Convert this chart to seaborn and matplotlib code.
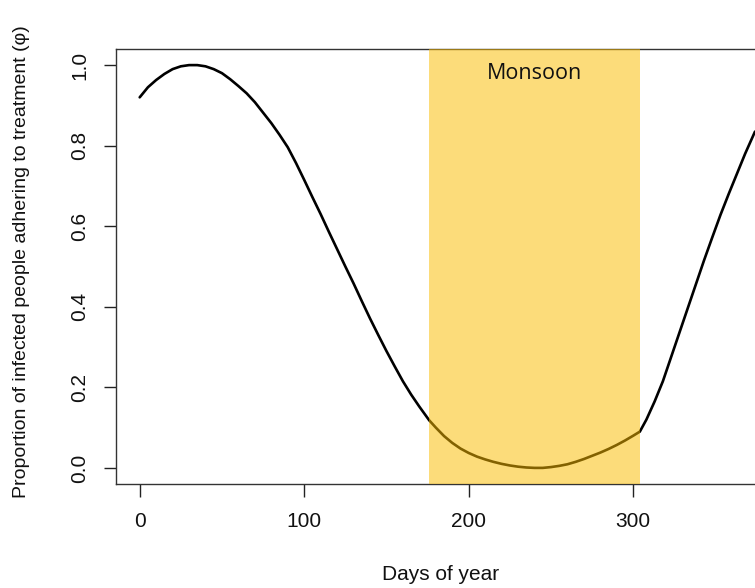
import matplotlib
matplotlib.use("Agg")
import matplotlib.pyplot as plt
import seaborn as sns
import pandas as pd

# ---- data ----
days = [0, 5, 10, 15, 20, 25, 30, 35, 40, 45, 50, 55, 60, 65, 70, 75, 80, 85,
        90, 95, 100, 105, 110, 115, 120, 125, 130, 135, 140, 145, 150, 155,
        160, 165, 170, 176, 180, 185, 190, 195, 200, 205, 210, 215, 220, 225,
        230, 235, 240, 245, 250, 255, 260, 265, 270, 275, 280, 285, 290, 295,
        300, 304, 308, 313, 318, 323, 328, 333, 338, 343, 348, 353, 358, 363,
        368, 374]
adherence = [0.92, 0.945, 0.963, 0.978, 0.99, 0.997, 1.0, 1.0, 0.997, 0.99,
             0.98, 0.965, 0.948, 0.93, 0.908, 0.882, 0.856, 0.827, 0.796,
             0.757, 0.715, 0.672, 0.63, 0.586, 0.543, 0.5, 0.458, 0.414,
             0.371, 0.33, 0.29, 0.252, 0.215, 0.182, 0.152, 0.118, 0.1, 0.079,
             0.062, 0.048, 0.037, 0.028, 0.021, 0.015, 0.01, 0.006, 0.003,
             0.001, 0.0, 0.0, 0.002, 0.005, 0.009, 0.015, 0.022, 0.03, 0.038,
             0.047, 0.057, 0.068, 0.08, 0.09, 0.12, 0.165, 0.215, 0.275,
             0.335, 0.395, 0.455, 0.515, 0.572, 0.628, 0.68, 0.73, 0.78,
             0.835]
monsoon_start = 176
monsoon_end = 304
monsoon_label = "Monsoon"
x_ticks = [0, 100, 200, 300]
y_ticks = [0.0, 0.2, 0.4, 0.6, 0.8, 1.0]
y_tick_labels = ["0.0", "0.2", "0.4", "0.6", "0.8", "1.0"]
x_label = "Days of year"
y_label = "Proportion of infected people adhering to treatment (\u03c6)"

df = pd.DataFrame({"day": days, "phi": adherence})

sns.set_style("white")
plt.rcParams["font.family"] = ["Liberation Sans", "DejaVu Sans"]

fig = plt.figure(figsize=(7.55, 5.88), dpi=100)
ax = fig.add_axes([116 / 755, (588 - 484) / 588, 1 - 116 / 755, (484 - 49) / 588])

sns.lineplot(data=df, x="day", y="phi", ax=ax, color="black", linewidth=1.9,
             zorder=2)

ax.axvspan(monsoon_start, monsoon_end, color=(251 / 255, 188 / 255, 0),
           alpha=0.52, lw=0, zorder=3)
ax.text((monsoon_start + monsoon_end) / 2, 0.965, monsoon_label,
        ha="center", va="baseline", fontsize=15.5, family="Open Sans",
        color="#111111", zorder=4)

ax.set_xlim(-14.4, 374)
ax.set_ylim(-0.04, 1.04)
ax.set_xticks(x_ticks)
ax.set_xticklabels([str(t) for t in x_ticks])
ax.set_yticks(y_ticks)
ax.set_yticklabels(y_tick_labels, rotation=90, va="center")

ax.tick_params(axis="both", direction="out", length=9, width=1.0,
               colors="#222222", labelsize=15, labelcolor="#111111",
               bottom=True, left=True, top=False, right=False)
ax.tick_params(axis="x", pad=11)
ax.tick_params(axis="y", pad=10)

for side in ["left", "bottom", "top"]:
    ax.spines[side].set_visible(True)
    ax.spines[side].set_color("#333333")
    ax.spines[side].set_linewidth(1.0)
ax.spines["right"].set_visible(False)

ax.set_xlabel("")
ax.set_ylabel("")
fig.text(441 / 755, 1 - 575 / 588, x_label,
         ha="center", va="center", fontsize=15, color="#111111")
fig.text(22 / 755, 1 - 262 / 588, y_label, rotation=90,
         ha="center", va="center", fontsize=14, color="#111111")

fig.savefig("out.png", dpi=100, facecolor="white")
